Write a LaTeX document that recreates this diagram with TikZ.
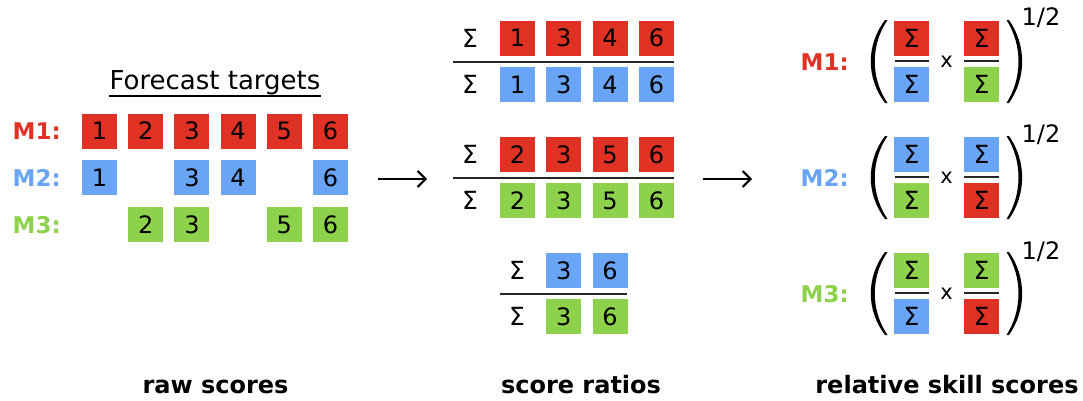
\documentclass[tikz,border=0pt]{standalone}
\usepackage{fontspec}
\setmainfont{DejaVu Sans}
\usepackage{tikz}
\usetikzlibrary{arrows.meta}
\definecolor{mred}{HTML}{E03224}
\definecolor{mblue}{HTML}{69A4F5}
\definecolor{mgreen}{HTML}{8ED14B}
\newcommand{\numfont}{\fontsize{24}{24}\selectfont}
\newcommand{\sigfont}{\fontsize{25}{25}\selectfont}
\newcommand{\labfont}{\fontsize{23}{23}\selectfont\bfseries}
\newcommand{\capfont}{\fontsize{24}{24}\selectfont\bfseries}

\begin{document}
\begin{tikzpicture}[x=1pt,y=-1pt,
    box/.style={minimum size=35pt,inner sep=0pt,font=\numfont},
    rbox/.style={box,fill=mred},
    bbox/.style={box,fill=mblue},
    gbox/.style={box,fill=mgreen},
    sbox/.style={font=\sigfont},
    lab/.style={anchor=east,inner sep=0pt,font=\labfont},
    sig/.style={inner sep=0pt,font=\sigfont},
    fbar/.style={line width=2.5pt,black!85},
    panelcap/.style={anchor=base,inner sep=0pt,font=\capfont},
    step arrow/.style={line width=2pt,-{Straight Barb[length=8pt,width=16pt]}}]
  \useasboundingbox (0,0) rectangle (1083,400);

           \node at (215,89) [anchor=base,inner sep=0pt,font=\fontsize{26}{26}\selectfont] (ft) {Forecast targets};
           \draw[line width=1.5pt] ([yshift=-7pt]ft.base west) -- ([yshift=-7pt]ft.base east);
           \node at (61,131) [lab,mred] (l1) {M1:};
           \node at (61,178) [lab,mblue] (l2) {M2:};
           \node at (61,225) [lab,mgreen] (l3) {M3:};
           \node at (99.5,131) [rbox] (r1c1) {1};
           \node at (145.7,131) [rbox] (r1c2) {2};
           \node at (191.9,131) [rbox] (r1c3) {3};
           \node at (238.1,131) [rbox] (r1c4) {4};
           \node at (284.3,131) [rbox] (r1c5) {5};
           \node at (330.5,131) [rbox] (r1c6) {6};
           \node at (99.5,177.5) [bbox] (r2c1) {1};
           \node at (191.9,177.5) [bbox] (r2c3) {3};
           \node at (238.1,177.5) [bbox] (r2c4) {4};
           \node at (330.5,177.5) [bbox] (r2c6) {6};
           \node at (145.7,224.5) [gbox] (r3c2) {2};
           \node at (191.9,224.5) [gbox] (r3c3) {3};
           \node at (284.3,224.5) [gbox] (r3c5) {5};
           \node at (330.5,224.5) [gbox] (r3c6) {6};

           \coordinate (a1) at (378,179);
           \coordinate (a2) at (427,179);
           \draw[step arrow] (a1) -- (a2);

           \node at (470,38) [sig] (s1t) {Σ};
           \node at (517.5,38) [rbox] (f1t1) {1};
           \node at (563.8,38) [rbox] (f1t2) {3};
           \node at (610.1,38) [rbox] (f1t3) {4};
           \node at (656.4,38) [rbox] (f1t4) {6};
           \draw[fbar] (453,62) -- (674,62);
           \node at (470,84.5) [sig] (s1b) {Σ};
           \node at (517.5,84.5) [bbox] (f1b1) {1};
           \node at (563.8,84.5) [bbox] (f1b2) {3};
           \node at (610.1,84.5) [bbox] (f1b3) {4};
           \node at (656.4,84.5) [bbox] (f1b4) {6};

           \node at (470,154.5) [sig] (s2t) {Σ};
           \node at (517.5,154.5) [rbox] (f2t1) {2};
           \node at (563.8,154.5) [rbox] (f2t2) {3};
           \node at (610.1,154.5) [rbox] (f2t3) {5};
           \node at (656.4,154.5) [rbox] (f2t4) {6};
           \draw[fbar] (453,178) -- (674,178);
           \node at (470,200.5) [sig] (s2b) {Σ};
           \node at (517.5,200.5) [gbox] (f2b1) {2};
           \node at (563.8,200.5) [gbox] (f2b2) {3};
           \node at (610.1,200.5) [gbox] (f2b3) {5};
           \node at (656.4,200.5) [gbox] (f2b4) {6};

           \node at (517,270.5) [sig] (s3t) {Σ};
           \node at (563.8,270.5) [bbox] (f3t1) {3};
           \node at (610.1,270.5) [bbox] (f3t2) {6};
           \draw[fbar] (500,294) -- (627,294);
           \node at (517,316.5) [sig] (s3b) {Σ};
           \node at (563.8,316.5) [gbox] (f3b1) {3};
           \node at (610.1,316.5) [gbox] (f3b2) {6};

           \coordinate (a3) at (703,179);
           \coordinate (a4) at (752,179);
           \draw[step arrow] (a3) -- (a4);

           \node at (849,62) [lab,mred] (k1) {M1:};
           \fill (885,20) .. controls (866,45) and (866,78) .. (885,103) -- (887.5,103) .. controls (870.5,78) and (870.5,45) .. (887.5,20) -- cycle;
           \node at (911.5,38) [rbox,sbox] (k1a) {Σ};
           \draw[fbar] (895,61) -- (929,61);
           \node at (911.5,84.5) [bbox,sbox] (k1b) {Σ};
           \node at (946.5,62) [sig,font=\fontsize{21}{21}\selectfont] (x1) {x};
           \node at (981.5,38) [rbox,sbox] (k1c) {Σ};
           \draw[fbar] (964,61) -- (999,61);
           \node at (981.5,84.5) [gbox,sbox] (k1d) {Σ};
           \fill (1006.5,20) .. controls (1022.5,45) and (1022.5,78) .. (1006.5,103) -- (1009,103) .. controls (1026.5,78) and (1026.5,45) .. (1009,20) -- cycle;
           \node at (1041,18) [sig,font=\numfont] (e1) {1/2};

           \node at (849,178) [lab,mblue] (k2) {M2:};
           \fill (885,136) .. controls (866,161) and (866,194) .. (885,219) -- (887.5,219) .. controls (870.5,194) and (870.5,161) .. (887.5,136) -- cycle;
           \node at (911.5,154.5) [bbox,sbox] (k2a) {Σ};
           \draw[fbar] (895,177) -- (929,177);
           \node at (911.5,200.5) [gbox,sbox] (k2b) {Σ};
           \node at (946.5,178) [sig,font=\fontsize{21}{21}\selectfont] (x2) {x};
           \node at (981.5,154.5) [bbox,sbox] (k2c) {Σ};
           \draw[fbar] (964,177) -- (999,177);
           \node at (981.5,200.5) [rbox,sbox] (k2d) {Σ};
           \fill (1006.5,136) .. controls (1022.5,161) and (1022.5,194) .. (1006.5,219) -- (1009,219) .. controls (1026.5,194) and (1026.5,161) .. (1009,136) -- cycle;
           \node at (1041,135) [sig,font=\numfont] (e2) {1/2};

           \node at (849,294) [lab,mgreen] (k3) {M3:};
           \fill (885,252) .. controls (866,277) and (866,310) .. (885,335) -- (887.5,335) .. controls (870.5,310) and (870.5,277) .. (887.5,252) -- cycle;
           \node at (911.5,270.5) [gbox,sbox] (k3a) {Σ};
           \draw[fbar] (895,293) -- (929,293);
           \node at (911.5,316.5) [bbox,sbox] (k3b) {Σ};
           \node at (946.5,294) [sig,font=\fontsize{21}{21}\selectfont] (x3) {x};
           \node at (981.5,270.5) [gbox,sbox] (k3c) {Σ};
           \draw[fbar] (964,293) -- (999,293);
           \node at (981.5,316.5) [rbox,sbox] (k3d) {Σ};
           \fill (1006.5,252) .. controls (1022.5,277) and (1022.5,310) .. (1006.5,335) -- (1009,335) .. controls (1026.5,310) and (1026.5,277) .. (1009,252) -- cycle;
           \node at (1041,252) [sig,font=\numfont] (e3) {1/2};

           \node at (215.5,393) [panelcap] (c1) {raw scores};
           \node at (581,393) [panelcap] (c2) {score ratios};
           \node at (947,393) [panelcap] (c3) {relative skill scores};
\end{tikzpicture}
\end{document}
